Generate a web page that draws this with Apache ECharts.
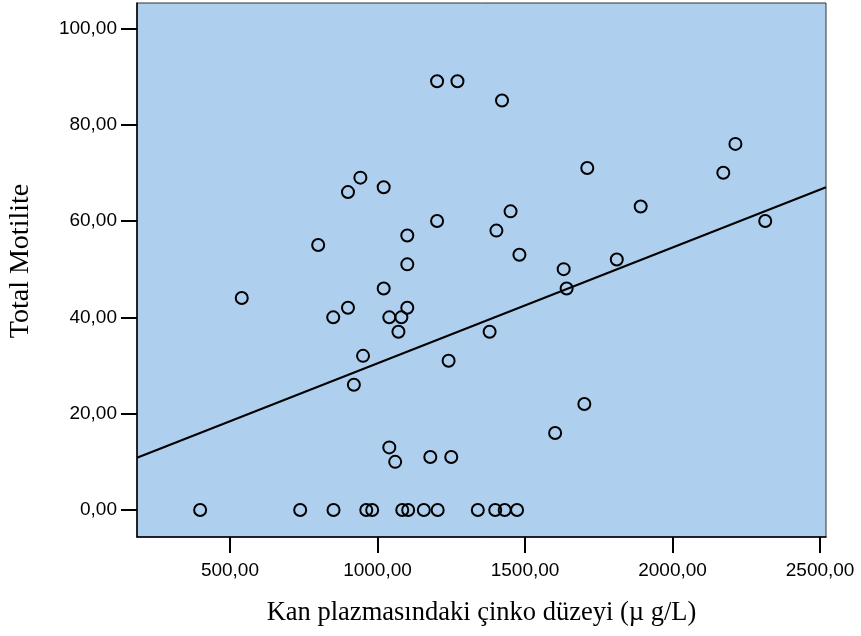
<!DOCTYPE html>
<html>
<head>
<meta charset="utf-8">
<script src="https://cdn.jsdelivr.net/npm/echarts@6/dist/echarts.min.js"></script>
<style>html,body{margin:0;padding:0;background:#fff;}#c{width:861px;height:636px;}</style>
</head>
<body>
<div id="c"></div>
<script>
// Zinc level (µg/L)
const zinc = [399, 738, 851, 962, 982, 1084, 1104, 1157, 1204, 1340, 1399, 1431, 1473,
  1040, 1060, 1179, 1250,
  920, 951, 1241, 1071, 1380,
  850, 1040, 1081, 900, 1101, 540, 1021, 1101, 799, 1101, 1202, 900, 1021, 942,
  1202, 1271, 1422, 1711, 1451, 1403, 1481, 1631, 1641, 1701, 1602,
  2213, 2172, 1892, 1811, 2314];
// Total motility
const motility = [0, 0, 0, 0, 0, 0, 0, 0, 0, 0, 0, 0, 0,
  13, 10, 11, 11,
  26, 32, 31, 37, 37,
  40, 40, 40, 42, 42, 44, 46, 51, 55, 57, 60, 66, 67, 69,
  89, 89, 85, 71, 62, 58, 53, 50, 46, 22, 16,
  76, 70, 63, 52, 60];
const xTicks = [500, 1000, 1500, 2000, 2500];
const yTicks = [0, 20, 40, 60, 80, 100];
const xRange = [185, 2520];
const yRange = [-5.6, 105.25];
// fit line: y = intercept + slope * x
const fitIntercept = 6.40;
const fitSlope = 0.02405;

const points = zinc.map((x, i) => [x, motility[i]]);
const fitLine = xRange.map(x => [x, fitIntercept + fitSlope * x]);
const fmt = v => Number(v).toFixed(2).replace('.', ',');

const chart = echarts.init(document.getElementById('c'), null, {renderer: 'canvas'});
chart.setOption({
  animation: false,
  backgroundColor: '#ffffff',
  grid: {
    left: 137, right: 35, top: 3, bottom: 99,
    show: true, backgroundColor: '#AECFEE', borderColor: '#333', borderWidth: 1,
    containLabel: false, outerBoundsMode: 'none'
  },
  xAxis: {
    type: 'value', min: xRange[0], max: xRange[1],
    name: 'Kan plazmasındaki çinko düzeyi (µ g/L)',
    nameLocation: 'middle', nameGap: 63,
    nameTextStyle: {fontFamily: 'Liberation Serif', fontSize: 26.5, color: '#000'},
    splitLine: {show: false},
    axisLine: {show: true, onZero: false, lineStyle: {color: '#000', width: 1.5}},
    axisTick: {show: true, length: 16, customValues: xTicks, lineStyle: {color: '#000', width: 2}},
    axisLabel: {customValues: xTicks, formatter: fmt, margin: 24, fontFamily: 'Liberation Sans', fontSize: 19, color: '#000', showMinLabel: true, showMaxLabel: true, hideOverlap: false}
  },
  yAxis: {
    type: 'value', min: yRange[0], max: yRange[1],
    name: 'Total Motilite',
    nameLocation: 'middle', nameGap: 102,
    nameTextStyle: {fontFamily: 'Liberation Serif', fontSize: 28, color: '#000', padding: [0, 0, 0, 18]},
    splitLine: {show: false},
    axisLine: {show: true, onZero: false, lineStyle: {color: '#000', width: 1.5}},
    axisTick: {show: true, length: 16, customValues: yTicks, lineStyle: {color: '#000', width: 2}},
    axisLabel: {customValues: yTicks, formatter: fmt, margin: 20, fontFamily: 'Liberation Sans', fontSize: 19, color: '#000'}
  },
  series: [
    {
      type: 'line', data: fitLine, showSymbol: false, symbol: 'none',
      lineStyle: {color: '#000', width: 2}, silent: true, z: 2
    },
    {
      type: 'scatter', data: points, symbol: 'circle', symbolSize: 12,
      itemStyle: {color: 'rgba(0,0,0,0)', borderColor: '#000', borderWidth: 2, opacity: 1},
      z: 3
    }
  ]
});
</script>
</body>
</html>
